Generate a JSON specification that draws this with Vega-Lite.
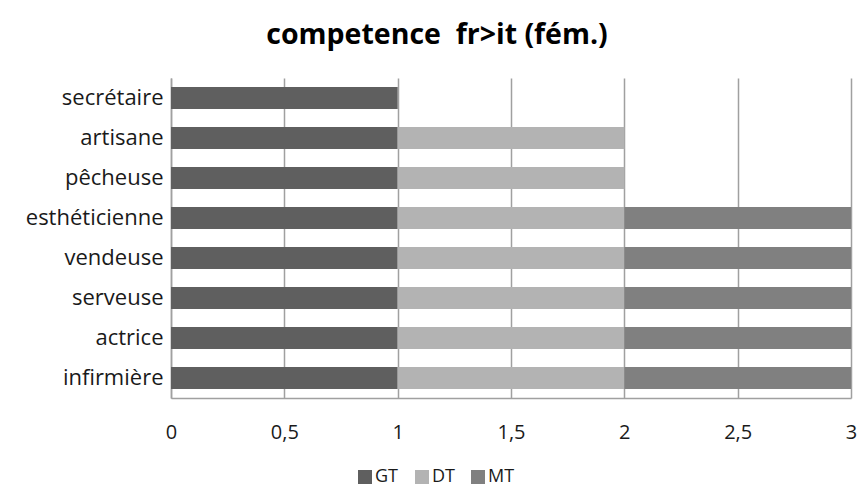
{
  "$schema": "https://vega.github.io/schema/vega-lite/v6.json",
  "width": 680,
  "height": 320,
  "autosize": {"type": "none"},
  "padding": {"left": 171, "top": 78, "right": 8, "bottom": 93},
  "background": "white",
  "title": {
    "text": "competence\u00a0 fr>it (fém.)",
    "font": "Open Sans",
    "fontSize": 28.5,
    "fontWeight": "bold",
    "color": "#000000",
    "anchor": "middle",
    "dx": -74,
    "offset": 29
  },
  "config": {
    "view": {"stroke": null},
    "font": "Open Sans"
  },
  "data": {
    "values": [
      {"metier": "secrétaire", "serie": "GT", "ordre": 1, "valeur": 1},
      {"metier": "artisane", "serie": "GT", "ordre": 1, "valeur": 1},
      {"metier": "artisane", "serie": "DT", "ordre": 2, "valeur": 1},
      {"metier": "pêcheuse", "serie": "GT", "ordre": 1, "valeur": 1},
      {"metier": "pêcheuse", "serie": "DT", "ordre": 2, "valeur": 1},
      {"metier": "esthéticienne", "serie": "GT", "ordre": 1, "valeur": 1},
      {"metier": "esthéticienne", "serie": "DT", "ordre": 2, "valeur": 1},
      {"metier": "esthéticienne", "serie": "MT", "ordre": 3, "valeur": 1},
      {"metier": "vendeuse", "serie": "GT", "ordre": 1, "valeur": 1},
      {"metier": "vendeuse", "serie": "DT", "ordre": 2, "valeur": 1},
      {"metier": "vendeuse", "serie": "MT", "ordre": 3, "valeur": 1},
      {"metier": "serveuse", "serie": "GT", "ordre": 1, "valeur": 1},
      {"metier": "serveuse", "serie": "DT", "ordre": 2, "valeur": 1},
      {"metier": "serveuse", "serie": "MT", "ordre": 3, "valeur": 1},
      {"metier": "actrice", "serie": "GT", "ordre": 1, "valeur": 1},
      {"metier": "actrice", "serie": "DT", "ordre": 2, "valeur": 1},
      {"metier": "actrice", "serie": "MT", "ordre": 3, "valeur": 1},
      {"metier": "infirmière", "serie": "GT", "ordre": 1, "valeur": 1},
      {"metier": "infirmière", "serie": "DT", "ordre": 2, "valeur": 1},
      {"metier": "infirmière", "serie": "MT", "ordre": 3, "valeur": 1}
    ]
  },
  "mark": {"type": "bar"},
  "encoding": {
    "y": {
      "field": "metier",
      "type": "nominal",
      "sort": ["secrétaire", "artisane", "pêcheuse", "esthéticienne", "vendeuse", "serveuse", "actrice", "infirmière"],
      "scale": {"paddingInner": 0.45, "paddingOuter": 0.225},
      "axis": {
        "title": null,
        "ticks": false,
        "domain": true,
        "domainColor": "#a0a0a0",
        "domainWidth": 1.5,
        "labelFont": "Open Sans",
        "labelFontSize": 22,
        "labelColor": "#1a1a1a",
        "labelPadding": 8
      }
    },
    "x": {
      "field": "valeur",
      "type": "quantitative",
      "stack": "zero",
      "scale": {"domain": [0, 3], "nice": false},
      "axis": {
        "title": null,
        "values": [0, 0.5, 1, 1.5, 2, 2.5, 3],
        "labelExpr": "replace(format(datum.value, ''), '.', ',')",
        "ticks": false,
        "domain": true,
        "domainColor": "#a0a0a0",
        "domainWidth": 1.5,
        "grid": true,
        "gridColor": "#a0a0a0",
        "gridWidth": 1.5,
        "labelFont": "Open Sans",
        "labelFontSize": 20,
        "labelColor": "#1a1a1a",
        "labelPadding": 24,
        "labelFlush": false
      }
    },
    "color": {
      "field": "serie",
      "type": "nominal",
      "scale": {"domain": ["GT", "DT", "MT"], "range": ["#5f5f5f", "#b3b3b3", "#808080"]},
      "legend": {
        "title": null,
        "orient": "none",
        "direction": "horizontal",
        "legendX": 185,
        "legendY": 390,
        "symbolType": "square",
        "symbolSize": 196,
        "symbolStrokeWidth": 0,
        "labelFont": "Open Sans",
        "labelFontSize": 18,
        "labelColor": "#1a1a1a",
        "labelOffset": 1,
        "columnPadding": 14
      }
    },
    "order": {"field": "ordre", "type": "quantitative"}
  }
}
